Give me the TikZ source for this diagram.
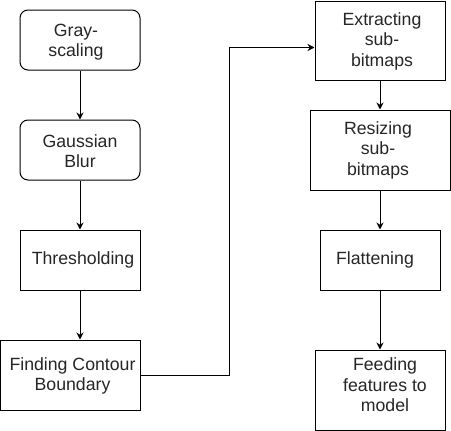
\documentclass[tikz,border=0pt]{standalone}
\usepackage{fontspec}
\setmainfont{Liberation Sans}
\usetikzlibrary{arrows.meta}
\begin{document}
\begin{tikzpicture}[x=1pt,y=-1pt,
  box/.style={draw=black, line width=1pt, fill=white, inner sep=0pt},
  rbox/.style={box, rounded corners=8pt},
  lbl/.style={align=center, font=\fontsize{17.7}{20.5}\selectfont, text=black!85, inner sep=0pt},
  arr/.style={draw=black, line width=1pt, -{Stealth[length=7pt,width=7pt]}}]
\useasboundingbox (0,0) rectangle (451,431);
% boxes
\node[rbox, minimum width=120pt, minimum height=60pt] (n1) at (80,40) {};
\node[rbox, minimum width=120pt, minimum height=60pt] (n2) at (80,150) {};
\node[box, minimum width=120pt, minimum height=60pt] (n3) at (80,260) {};
\node[box, minimum width=140pt, minimum height=70pt] (n4) at (70.5,375) {};
\node[box, minimum width=130pt, minimum height=79pt] (n5) at (380,40.5) {};
\node[box, minimum width=140pt, minimum height=80pt] (n6) at (380,150) {};
\node[box, minimum width=120pt, minimum height=60pt] (n7) at (380,260) {};
\node[box, minimum width=130pt, minimum height=80pt] (n8) at (380,390) {};
% labels
\node[lbl] (t1) at (76,42) {Gray-\\scaling};
\node[lbl] (t2) at (80,151) {Gaussian\\Blur};
\node[lbl] (t3) at (83,260) {Thresholding};
\node[lbl] (t4) at (72.5,376) {Finding Contour\\Boundary};
\node[lbl] (t5) at (382,41) {Extracting\\sub-\\bitmaps};
\node[lbl] (t6) at (378,150) {Resizing\\sub-\\bitmaps};
\node[lbl] (t7) at (375,260) {Flattening};
\node[lbl] (t8) at (385,385) {Feeding\\features to\\model};
% connectors
\draw[arr] (n1) -- (n2);
\draw[arr] (n2) -- (n3);
\draw[arr] (n3.south) -- (n3.south |- n4.north);
\draw[arr] (n4.east) -- ++(88,0) |- ([yshift=-7pt]n5.west);
\draw[arr] (n5) -- (n6);
\draw[arr] (n6) -- (n7);
\draw[arr] (n7) -- (n8);
\end{tikzpicture}
\end{document}
